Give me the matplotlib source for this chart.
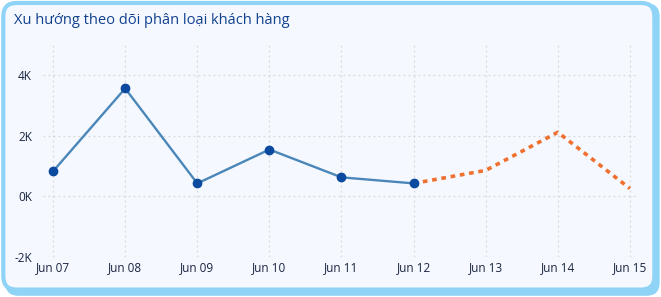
"""Customer segmentation trend card (actual + forecast)."""
import matplotlib
matplotlib.use("Agg")
import matplotlib.pyplot as plt
from matplotlib.patches import FancyBboxPatch
from matplotlib.ticker import FuncFormatter

DAYS = ["Jun 07", "Jun 08", "Jun 09", "Jun 10", "Jun 11", "Jun 12", "Jun 13", "Jun 14", "Jun 15"]
ACTUAL = [830, 3570, 430, 1550, 630, 430]
FORECAST_DAYS = ["Jun 12", "Jun 13", "Jun 14", "Jun 15"]
FORECAST = [430, 860, 2120, 260]
Y_TICKS = [-2000, 0, 2000, 4000]

TITLE = "Xu hướng theo dõi phân loại khách hàng"
LINE_COLOR = "#4a86b8"
MARKER_COLOR = "#0b4a9e"
FORECAST_COLOR = "#f07030"
TEXT_COLOR = "#1a2440"
TITLE_COLOR = "#12418e"
BG = "#f5f9ff"
BORDER = "#8fd3f7"

plt.rcParams["font.family"] = ["Open Sans", "DejaVu Sans"]

fig = plt.figure(figsize=(6.61, 2.97), dpi=100)
fig.patch.set_facecolor("white")

# shadow-ish thicker border on right/bottom
shadow = FancyBboxPatch((0.008, 0.004), 0.99, 0.985,
                        boxstyle="round,pad=0,rounding_size=0.02",
                        transform=fig.transFigure, facecolor=BORDER,
                        edgecolor="none", mutation_aspect=661 / 297, zorder=-3)
card = FancyBboxPatch((0.005, 0.025), 0.985, 0.965,
                      boxstyle="round,pad=0,rounding_size=0.02",
                      transform=fig.transFigure, facecolor=BG,
                      edgecolor=BORDER, linewidth=3, mutation_aspect=661 / 297, zorder=-2)
fig.patches.extend([shadow, card])

fig.text(0.021, 0.932, TITLE, fontsize=10.5, color=TITLE_COLOR, ha="left", va="center")

ax = fig.add_axes([0.065, 0.135, 0.90, 0.713])
ax.set_facecolor("none")
ax.set_zorder(2)

x_all = list(range(len(DAYS)))
x_act = [DAYS.index(d) for d in DAYS[:len(ACTUAL)]]
x_fc = [DAYS.index(d) for d in FORECAST_DAYS]

ax.plot(x_fc, FORECAST, color=FORECAST_COLOR, linewidth=2.6,
        linestyle=(0, (1.3, 1.3)), zorder=2)
ax.plot(x_act, ACTUAL, color=LINE_COLOR, linewidth=1.7, zorder=3)
ax.scatter(x_act, ACTUAL, s=36, color=MARKER_COLOR, zorder=4)

ax.set_xlim(-0.14, 8.11)
ax.set_ylim(-2000, 5000)
ax.set_xticks(x_all)
ax.set_xticklabels(DAYS)
ax.set_yticks(Y_TICKS)
ax.yaxis.set_major_formatter(FuncFormatter(lambda v, _: f"{int(v / 1000)}K"))
ax.tick_params(axis="both", length=0, labelsize=8.5, colors=TEXT_COLOR)
ax.tick_params(axis="y", pad=8)
ax.tick_params(axis="x", pad=3)
ax.grid(True, color="#d8d8d8", linestyle=(0, (1.5, 2.5)), linewidth=0.9)
for s in ax.spines.values():
    s.set_visible(False)

fig.savefig("out.png", dpi=100)
